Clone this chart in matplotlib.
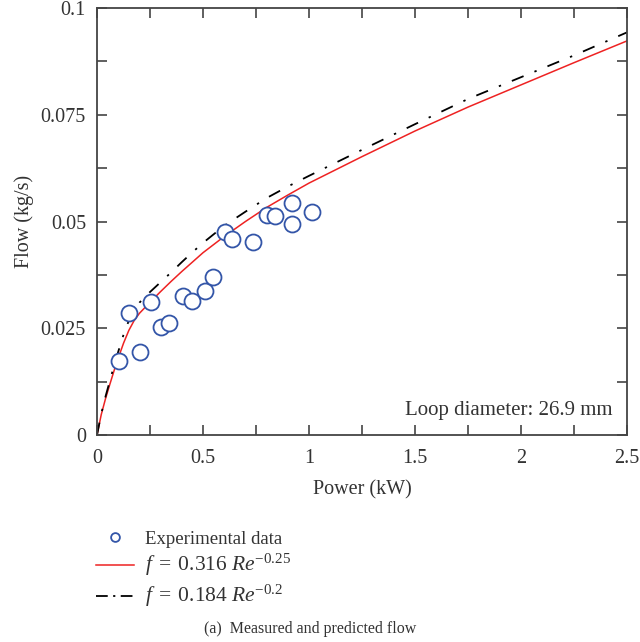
import matplotlib.pyplot as plt
from matplotlib.ticker import MultipleLocator

# Experimental points
power_exp = [0.104, 0.151, 0.203, 0.253, 0.302, 0.341, 0.404, 0.447, 0.509,
             0.549, 0.604, 0.638, 0.736, 0.802, 0.841, 0.921, 0.918, 1.013]
flow_exp = [0.0174, 0.0286, 0.0195, 0.0311, 0.0254, 0.0263, 0.0326, 0.0315, 0.0338,
            0.0371, 0.0476, 0.0460, 0.0451, 0.0515, 0.0513, 0.0543, 0.0494, 0.0523]

# Predicted curves
power_model = [0, 0.02, 0.04, 0.06, 0.08, 0.1, 0.125, 0.15, 0.175, 0.2, 0.25, 0.3,
               0.35, 0.4, 0.45, 0.5, 0.6, 0.7, 0.8, 0.9, 1.0, 1.25, 1.5, 1.75,
               2.0, 2.25, 2.5]
flow_f316 = [0, 0.0048, 0.0085, 0.0118, 0.0150, 0.0180, 0.0215, 0.0245, 0.0268,
             0.0285, 0.0311, 0.0336, 0.0360, 0.0383, 0.0405, 0.0427, 0.0465, 0.0500,
             0.0533, 0.0562, 0.0590, 0.0652, 0.0712, 0.0768, 0.0820, 0.0872, 0.0923]
flow_f184 = [0, 0.0050, 0.0090, 0.0126, 0.0162, 0.0195, 0.0235, 0.0268, 0.0292,
             0.0310, 0.0335, 0.0358, 0.0381, 0.0405, 0.0428, 0.0450, 0.0490, 0.0523,
             0.0555, 0.0582, 0.0607, 0.0668, 0.0728, 0.0787, 0.0838, 0.0889, 0.0943]

plt.rcParams['font.family'] = 'Liberation Serif'
plt.rcParams['mathtext.fontset'] = 'custom'
plt.rcParams['mathtext.rm'] = 'Liberation Serif'
plt.rcParams['mathtext.it'] = 'Liberation Serif:italic'

fig = plt.figure(figsize=(6.4, 6.42), dpi=100)
ax = fig.add_axes([0.1516, 0.3224, 0.8281, 0.6651])

blue = '#3355a8'
txt = '#333333'
ax.plot(power_exp, flow_exp, 'o', mfc='white', mec=blue, mew=1.3, ms=11.5,
        label='Experimental data', zorder=3)
ax.plot(power_model, flow_f316, '-', color='#ee2222', lw=1.1,
        label=r'$f\;=\;0.316\ Re^{-0.25}$', zorder=2)
ax.plot(power_model, flow_f184, color='black', lw=1.3, dashes=(7, 6.5, 1.3, 6.5),
        label=r'$f\;=\;0.184\ Re^{-0.2}$', zorder=2)

ax.set_xlim(0, 2.5)
ax.set_ylim(0, 0.1)
ax.xaxis.set_minor_locator(MultipleLocator(0.25))
ax.yaxis.set_minor_locator(MultipleLocator(0.0125))
ax.set_xticks([0, 0.5, 1, 1.5, 2, 2.5], ['0', '0.5', '1', '1.5', '2', '2.5'])
ax.set_yticks([0, 0.025, 0.05, 0.075, 0.1], ['0', '0.025', '0.05', '0.075', '0.1'])
ax.tick_params(which='both', direction='in', top=True, right=True,
               labelsize=14.5, color='#444444', width=1.2, labelcolor=txt)
ax.tick_params(which='both', length=7)
ax.tick_params(axis='x', which='major', pad=10)
ax.tick_params(axis='y', which='major', pad=8)
for s in ax.spines.values():
    s.set_color('#444444')
    s.set_linewidth(1.3)

ax.set_xlabel('Power (kW)', fontsize=14.5, color=txt, labelpad=9)
ax.set_ylabel('Flow (kg/s)', fontsize=14.5, color=txt, labelpad=5)

ax.text(0.973, 0.058, 'Loop diameter: 26.9 mm', transform=ax.transAxes,
        ha='right', va='center', fontsize=15, color=txt)

leg = fig.legend(loc='upper left', bbox_to_anchor=(0.123, 0.2), frameon=False,
                 fontsize=13.5, handlelength=2.05, handletextpad=0.6, labelspacing=0.25,
                 markerscale=0.55)
for i, t in enumerate(leg.get_texts()):
    t.set_color(txt)
    if i > 0:
        t.set_fontsize(15.5)
leg.get_lines()[2].set_dashes((6.5, 3, 1.2, 3))

fig.text(0.485, 0.02, '(a)  Measured and predicted flow', ha='center', va='center',
         fontsize=11.5, color=txt)

fig.savefig('out.png', dpi=100)
